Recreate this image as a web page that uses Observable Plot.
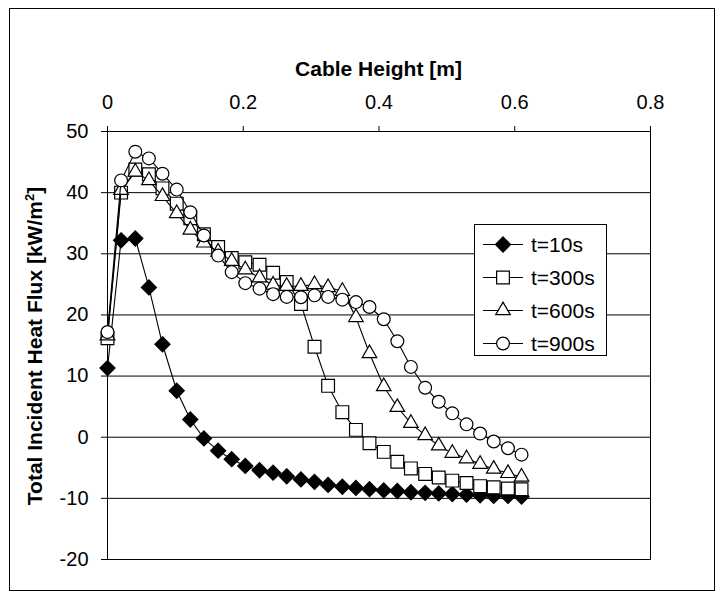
<!DOCTYPE html>
<html><head><meta charset="utf-8">
<script src="https://cdn.jsdelivr.net/npm/d3@7"></script>
<script src="https://cdn.jsdelivr.net/npm/@observablehq/plot@0.6"></script>
<style>
body{margin:0;background:#fff;}
#wrap{position:relative;width:720px;height:598px;overflow:hidden;}
#border{position:absolute;left:9px;top:8px;width:704px;height:581px;border:1px solid #000;pointer-events:none;}
</style></head><body><div id="wrap"><div id="border"></div></div>
<script>
// Cable height [m] of each sample point
const heights = [0, 0.020, 0.041, 0.061, 0.081, 0.102, 0.122, 0.142, 0.163, 0.183, 0.203, 0.224, 0.244, 0.264, 0.285, 0.305, 0.325, 0.346, 0.366, 0.386, 0.407, 0.427, 0.447, 0.468, 0.488, 0.508, 0.529, 0.549, 0.569, 0.590, 0.610];
// Total incident heat flux [kW/m2]
const t10  = [11.3, 32.2, 32.5, 24.5, 15.2, 7.6, 2.9, -0.2, -2.2, -3.6, -4.7, -5.4, -5.8, -6.4, -6.9, -7.3, -7.8, -8.1, -8.3, -8.5, -8.7, -8.8, -9.0, -9.1, -9.2, -9.3, -9.4, -9.5, -9.6, -9.6, -9.7];
const t300 = [16.2, 40.0, 43.8, 43.0, 40.7, 38.2, 35.8, 33.2, 31.1, 29.3, 28.6, 28.2, 26.9, 25.4, 21.8, 14.8, 8.4, 4.1, 1.2, -1.0, -2.4, -4.0, -5.1, -6.0, -6.6, -7.1, -7.5, -8.0, -8.2, -8.4, -8.5];
const t600 = [16.6, 40.4, 43.4, 42.0, 39.4, 36.6, 33.9, 31.8, 30.3, 28.8, 27.4, 26.1, 24.9, 24.7, 24.7, 25.0, 24.5, 23.9, 19.6, 13.7, 8.3, 4.9, 2.3, 0.3, -1.4, -2.6, -3.5, -4.4, -5.2, -5.9, -6.5];
const t900 = [17.2, 42.0, 46.7, 45.6, 43.1, 40.5, 36.8, 33.0, 29.7, 27.0, 25.2, 24.3, 23.4, 22.95, 22.9, 23.2, 22.95, 22.5, 22.1, 21.3, 19.3, 15.7, 11.5, 8.1, 5.8, 3.9, 2.1, 0.6, -0.7, -1.8, -2.85];
const seriesNames = ["t=10s", "t=300s", "t=600s", "t=900s"];
const xTicks = [0, 0.2, 0.4, 0.6, 0.8];
const yTicks = [-20, -10, 0, 10, 20, 30, 40, 50];

const values = [t10, t300, t600, t900];
const styles = [
  {symbol: d3.symbolDiamond2, r: 6.8, fill: "#000"},
  {symbol: d3.symbolSquare, r: 7.2, fill: "#fff"},
  {symbol: d3.symbolTriangle, r: 5.4, fill: "#fff"},
  {symbol: d3.symbolCircle, r: 6.4, fill: "#fff"}
];
const seriesData = seriesNames.map((name, k) => heights.map((h, i) => ({series: name, h, v: values[k][i]})));

const font = "'Liberation Sans', Arial, sans-serif";
const marks = [
  Plot.gridY(yTicks, {stroke: "#000", strokeOpacity: 1}),
  Plot.frame({stroke: "#000"}),
  Plot.axisX(xTicks, {anchor: "top", tickSize: 6, tickPadding: 17, fontSize: 20, tickFormat: d => String(d), label: null}),
  Plot.axisY(yTicks, {anchor: "left", tickSize: 6, tickPadding: 13, fontSize: 20, tickFormat: d => String(d), label: null})
];
seriesData.forEach((data, k) => {
  marks.push(Plot.line(data, {x: "h", y: "v", stroke: "#000", strokeWidth: 1.1}));
  marks.push(Plot.dot(data, {x: "h", y: "v", symbol: styles[k].symbol, r: styles[k].r, fill: styles[k].fill, stroke: "#000", strokeWidth: 1.2}));
});

const chart = Plot.plot({
  width: 720, height: 598,
  marginLeft: 107, marginRight: 70, marginTop: 131, marginBottom: 39,
  style: {fontFamily: font, fontSize: "20px", color: "#000", background: "transparent"},
  x: {domain: [0, 0.8]},
  y: {domain: [-20, 50]},
  marks
});
document.getElementById("wrap").prepend(chart);

const svg = d3.select(chart);
// Titles
svg.append("text").attr("x", 378.5).attr("y", 76).attr("text-anchor", "middle")
  .attr("font-family", font).attr("font-size", 21).attr("font-weight", "bold").attr("fill", "#000")
  .text("Cable Height [m]");
const yl = svg.append("text").attr("transform", "translate(42,346) rotate(-90)").attr("text-anchor", "middle")
  .attr("font-family", font).attr("font-size", 21).attr("font-weight", "bold").attr("fill", "#000");
yl.append("tspan").text("Total Incident Heat Flux [kW/m");
yl.append("tspan").attr("font-size", 13).attr("dy", -8).text("2");
yl.append("tspan").attr("dy", 8).text("]");

// Legend
const lg = svg.append("g");
lg.append("rect").attr("x", 474.5).attr("y", 224.5).attr("width", 132).attr("height", 131)
  .attr("fill", "#fff").attr("stroke", "#000");
seriesNames.forEach((name, k) => {
  const cy = 244 + 33 * k;
  lg.append("line").attr("x1", 483).attr("x2", 523).attr("y1", cy + 0.5).attr("y2", cy + 0.5).attr("stroke", "#000");
  const s = styles[k];
  lg.append("path").attr("transform", `translate(503,${cy + 0.5})`)
    .attr("d", d3.symbol(s.symbol, Math.PI * s.r * s.r)())
    .attr("fill", s.fill).attr("stroke", "#000").attr("stroke-width", 1.2);
  lg.append("text").attr("x", 531).attr("y", cy).attr("dy", "0.36em").attr("text-anchor", "start")
    .attr("font-family", font).attr("font-size", 21).attr("fill", "#000").text(name);
});
</script></body></html>
